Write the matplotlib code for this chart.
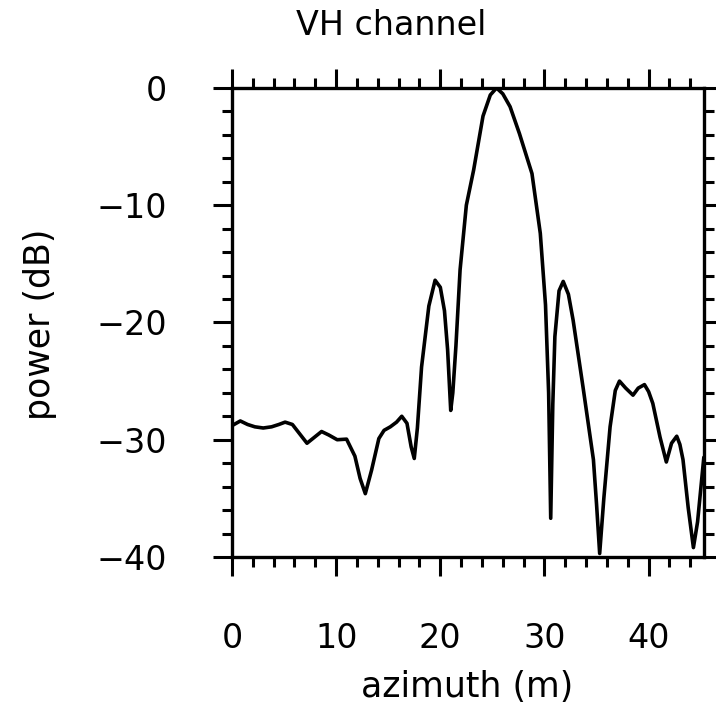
"""VH channel: azimuth profile (power in dB)."""

import matplotlib
matplotlib.use("Agg")
import matplotlib.pyplot as plt
from matplotlib.ticker import MultipleLocator

# 數值
azimuth = [0.0, 0.8, 1.5, 2.2, 3.0, 3.8, 4.5, 5.1, 5.8, 6.5, 7.2, 7.9, 8.6,
           9.3, 10.1, 11.0, 11.8, 12.3, 12.8, 13.4, 14.1, 14.6, 15.2, 15.8,
           16.3, 16.8, 17.2, 17.5, 17.8, 18.2, 18.9, 19.5, 20.0, 20.4, 20.7,
           21.0, 21.2, 21.5, 21.9, 22.5, 23.2, 24.1, 24.8, 25.4, 26.0, 26.7,
           27.6, 28.8, 29.6, 30.1, 30.4, 30.6, 30.8, 31.0, 31.4, 31.8, 32.3,
           32.75, 33.7, 34.7, 35.0, 35.3, 35.7, 36.3, 36.8, 37.2, 37.8, 38.5,
           39.0, 39.6, 40.0, 40.4, 41.1, 41.7, 42.2, 42.7, 43.0, 43.3, 43.8,
           44.3, 44.7, 45.3]
power_db = [-28.8, -28.4, -28.7, -28.9, -29.0, -28.9, -28.7, -28.5, -28.7,
            -29.5, -30.3, -29.8, -29.3, -29.6, -30.0, -29.95, -31.4, -33.3,
            -34.6, -32.6, -29.9, -29.2, -28.9, -28.5, -28.0, -28.6, -30.6,
            -31.6, -29.0, -23.8, -18.6, -16.4, -17.0, -19.0, -22.3, -27.5,
            -26.0, -22.0, -15.5, -10.0, -7.0, -2.4, -0.6, 0.0, -0.5, -1.6,
            -3.9, -7.3, -12.4, -18.5, -26.0, -36.7, -27.0, -21.2, -17.3,
            -16.5, -17.6, -19.8, -25.5, -31.7, -35.5, -39.7, -35.0, -28.9,
            -25.8, -25.0, -25.6, -26.2, -25.6, -25.3, -25.9, -26.9, -29.8,
            -31.9, -30.3, -29.7, -30.4, -31.7, -35.8, -39.2, -37.0, -31.5]

x_ticks = [0, 10, 20, 30, 40]
y_ticks = [-40, -30, -20, -10, 0]

plt.rcParams["font.family"] = ["DejaVu Sans"]

fig = plt.figure(figsize=(7.16, 7.15), dpi=100)
ax = fig.add_axes([0.324, 0.221, 0.659, 0.656])

ax.plot(azimuth, power_db, color="black", lw=2.6,
        solid_joinstyle="round", solid_capstyle="round")

ax.set_xlim(0, 45.3)
ax.set_ylim(-40, 0)
ax.set_xticks(x_ticks)
ax.set_yticks(y_ticks)
ax.xaxis.set_minor_locator(MultipleLocator(2))
ax.yaxis.set_minor_locator(MultipleLocator(2))

for s in ax.spines.values():
    s.set_linewidth(2.4)

ax.tick_params(which="both", direction="out", top=True, right=True,
               labeltop=False, labelright=False, width=2.2,
               labelsize=24, pad=33)
ax.tick_params(which="major", length=14)
ax.tick_params(which="minor", length=7)

ax.set_xlabel("azimuth (m)", fontsize=25)
ax.set_ylabel("power (dB)", fontsize=25)
ax.xaxis.set_label_coords(0.498, -0.24)
ax.yaxis.set_label_coords(-0.37, 0.497)

fig.text(0.547, 0.965, "VH channel", fontsize=24, ha="center", va="center")

fig.savefig("out.png", dpi=100)
